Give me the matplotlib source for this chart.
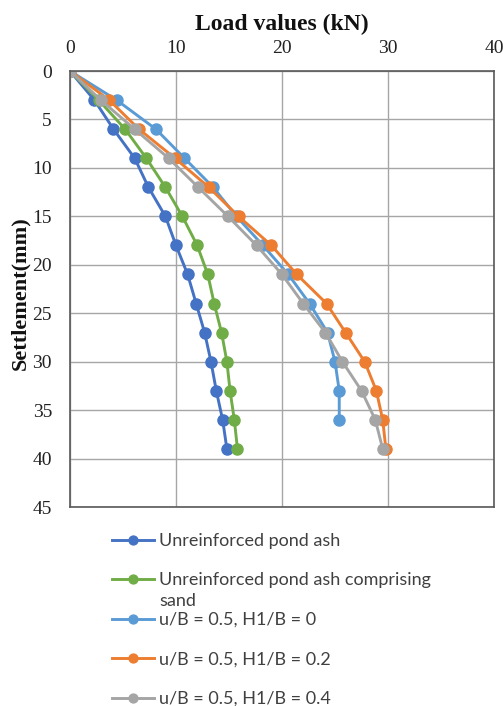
import matplotlib
matplotlib.use("Agg")
import matplotlib.pyplot as plt

settlement = [0, 3, 6, 9, 12, 15, 18, 21, 24, 27, 30, 33, 36, 39]
settlement_h0 = [0, 3, 6, 9, 12, 15, 18, 21, 24, 27, 30, 33, 36]
unreinforced = [0, 2.3, 4.1, 6.1, 7.4, 9.0, 10.0, 11.1, 11.9, 12.7, 13.3, 13.8, 14.4, 14.8]
unreinforced_sand = [0, 2.7, 5.2, 7.2, 9.0, 10.6, 12.0, 13.0, 13.6, 14.3, 14.8, 15.1, 15.5, 15.8]
ub05_h0 = [0, 4.4, 8.1, 10.8, 13.5, 15.7, 18.2, 20.6, 22.6, 24.3, 25.0, 25.4, 25.4]
ub05_h02 = [0, 3.7, 6.5, 9.9, 13.1, 15.9, 19.0, 21.4, 24.2, 26.0, 27.8, 28.9, 29.5, 29.8]
ub05_h04 = [0, 2.9, 6.1, 9.3, 12.1, 14.9, 17.6, 20.0, 22.0, 24.1, 25.7, 27.5, 28.8, 29.5]

labels = ["Unreinforced pond ash",
          "Unreinforced pond ash comprising",
          "u/B = 0.5, H1/B = 0",
          "u/B = 0.5, H1/B = 0.2",
          "u/B = 0.5, H1/B = 0.4"]
label_wrap = "sand"
colors = ["#4472C4", "#70AD47", "#5B9BD5", "#ED7D31", "#A5A5A5"]
xticks = [0, 10, 20, 30, 40]
yticks = [0, 5, 10, 15, 20, 25, 30, 35, 40, 45]

fig = plt.figure(figsize=(5.03, 7.06), dpi=100)
ax = fig.add_axes([70/503, 1-507/706, 424/503, 436/706])

series = [(unreinforced, settlement), (unreinforced_sand, settlement),
          (ub05_h0, settlement_h0), (ub05_h02, settlement), (ub05_h04, settlement)]
handles = []
for (xs, ys), c, lab in zip(series, colors, labels):
    h, = ax.plot(xs, ys, color=c, lw=2.1, marker='o', ms=8, label=lab)
    handles.append(h)

ax.set_xlim(0, 40)
ax.set_ylim(45, 0)
ax.set_xticks(xticks)
ax.set_yticks(yticks)
ax.xaxis.tick_top()
ax.xaxis.set_label_position('top')
serif = 'Liberation Serif'
ax.tick_params(axis='both', length=0, labelsize=14, colors='#222222')
ax.tick_params(axis='x', pad=10)
ax.tick_params(axis='y', pad=13)
for t in ax.get_xticklabels() + ax.get_yticklabels():
    t.set_fontfamily(serif)
ax.set_xlabel("Load values (kN)", fontfamily=serif, fontweight='bold', fontsize=17,
              labelpad=7, color='#111111')
ax.set_ylabel("Settlement(mm)", fontfamily=serif, fontweight='bold', fontsize=16,
              color='#111111')
ax.yaxis.set_label_coords(-0.094, 0.49)
ax.grid(True, color='#A6A6A6', lw=1.0)
ax.set_axisbelow(True)
for s in ax.spines.values():
    s.set_color('#595959')
    s.set_linewidth(1.2)

leg = fig.legend(handles=handles, labels=labels, loc='upper left',
                 bbox_to_anchor=(112/503, 1-533/706), frameon=False,
                 prop={'family': 'Lato', 'size': 13},
                 handlelength=2.3, handletextpad=0.3, labelspacing=1.3,
                 borderpad=0, borderaxespad=0, markerscale=0.8,
                 labelcolor='#404040')
fig.canvas.draw()
t2 = leg.get_texts()[1]
bb = t2.get_window_extent()
x0, y0 = fig.transFigure.inverted().transform((bb.x0, bb.y0))
fig.text(x0, y0 - 21/706, label_wrap, fontfamily='Lato', fontsize=13,
         color='#404040', va='bottom', ha='left')

fig.savefig("out.png", dpi=100)
